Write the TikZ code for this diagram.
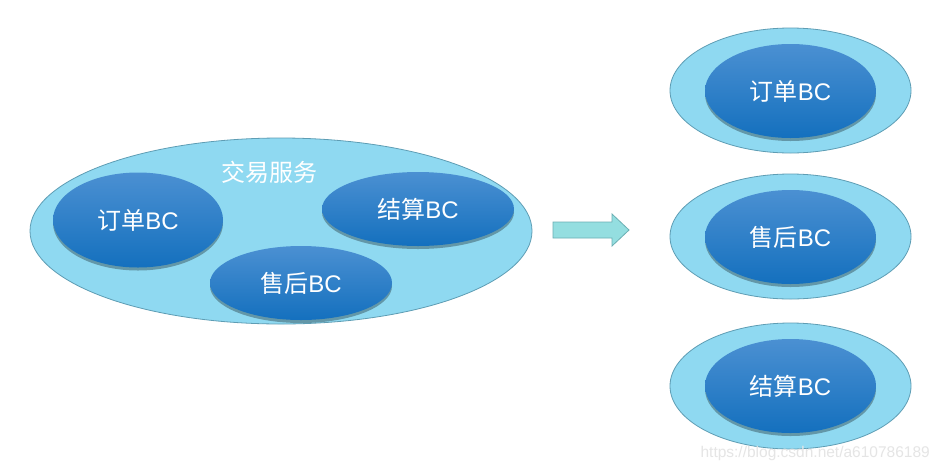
\documentclass[tikz,border=0pt]{standalone}
\usepackage{fontspec}
\newfontfamily\cjk{Noto Sans CJK SC}
\setmainfont{Liberation Sans}
\usetikzlibrary{shapes.geometric,shadows}
\definecolor{outerfill}{HTML}{8FD9F1}
\definecolor{outerline}{HTML}{5E9DB4}
\definecolor{innertop}{HTML}{4B90D2}
\definecolor{innerbot}{HTML}{1470BE}
\definecolor{arrowfill}{HTML}{94DEE0}
\definecolor{arrowline}{HTML}{6AAFB3}
\tikzset{
  outerell/.style={ellipse, draw=outerline, line width=0.8pt, fill=outerfill, inner sep=0pt},
  innerell/.style={ellipse, inner sep=0pt, top color=innertop, bottom color=innerbot,
     drop shadow={shadow xshift=0pt, shadow yshift=-3pt, opacity=0.3, fill=black},
     text=white, font=\fontsize{24}{28}\selectfont},
  lbl/.style={text=white, font=\cjk\fontsize{24}{28}\selectfont},
}
\begin{document}
\begin{tikzpicture}[x=1pt,y=-1pt]
\useasboundingbox[fill=white] (0,0) rectangle (941,472);
% left group
\node[outerell, minimum width=502pt, minimum height=186pt] (svc) at (281,231) {};
\node[lbl] (svclbl) at (269,172) {交易服务};
\node[innerell, minimum width=170pt, minimum height=95pt] (lorder) at (138,220) {{\cjk 订单}BC};
\node[innerell, minimum width=192pt, minimum height=74pt] (lsettle) at (418,209) {{\cjk 结算}BC};
\node[innerell, minimum width=182pt, minimum height=74pt] (lafter) at (301,283) {{\cjk 售后}BC};
% arrow
\draw[draw=arrowline, fill=arrowfill, line width=0.8pt]
  (553,222) -- (612,222) -- (612,214) -- (629,230) -- (612,246) -- (612,238) -- (553,238) -- cycle;
% right side
\node[outerell, minimum width=241pt, minimum height=125pt] (o1) at (790.5,90.5) {};
\node[innerell, minimum width=171pt, minimum height=94pt] (r1) at (790.5,91) {{\cjk 订单}BC};
\node[outerell, minimum width=241pt, minimum height=125pt] (o2) at (790.5,236.5) {};
\node[innerell, minimum width=171pt, minimum height=94pt] (r2) at (790.5,237) {{\cjk 售后}BC};
\node[outerell, minimum width=241pt, minimum height=126pt] (o3) at (790.5,386) {};
\node[innerell, minimum width=171pt, minimum height=94pt] (r3) at (790.5,386) {{\cjk 结算}BC};
% watermark
\node[text=black!10, font=\fontsize{15.5}{18}\selectfont, anchor=east, inner sep=0pt] (wm) at (930,453) {https://blog.csdn.net/a610786189};
\end{tikzpicture}
\end{document}
